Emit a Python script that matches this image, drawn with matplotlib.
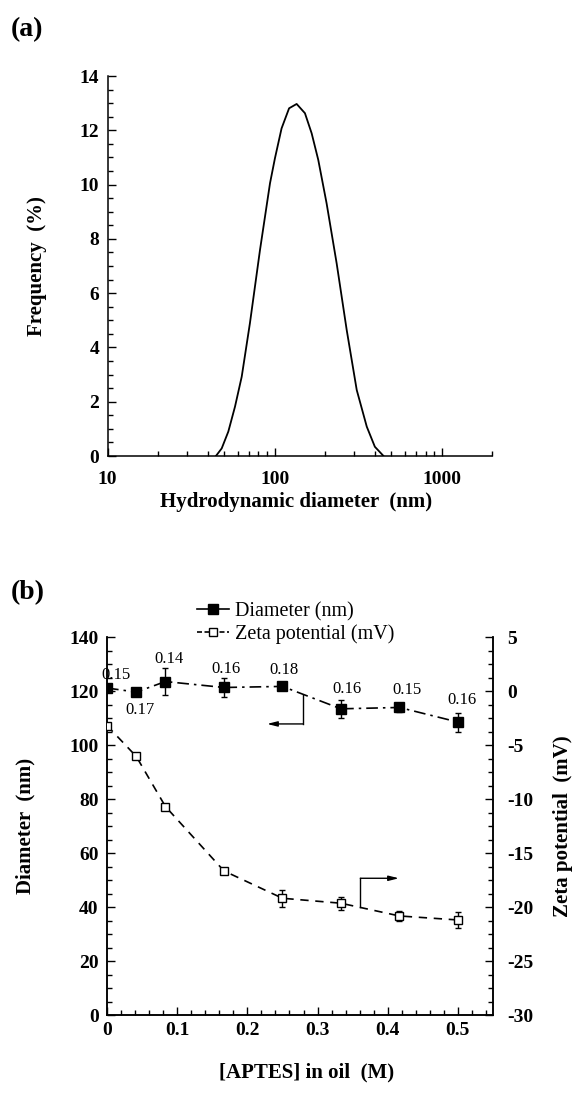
import numpy as np
import matplotlib as mpl
mpl.use('Agg')
import matplotlib.pyplot as plt
from matplotlib.lines import Line2D
from matplotlib.ticker import MultipleLocator, AutoMinorLocator, NullFormatter

rc = {
   'font.family': ['Liberation Serif', 'DejaVu Serif'],
   'axes.unicode_minus': False,
   'axes.linewidth': 1.1,
   'xtick.direction': 'in',
   'ytick.direction': 'in',
   'xtick.major.width': 1.0,
   'ytick.major.width': 1.0,
   'xtick.minor.width': 1.0,
   'ytick.minor.width': 1.0,
}
mpl.rcParams.update(rc)

# ----------------------------------------------------------------------------
# data, panel (a): size distribution
size_nm = [44.5, 48.2, 52.8, 57.9, 63.5, 71.1, 81.7, 93.8, 100.4, 110, 122,
           135.4, 151.8, 166.5, 182.4, 204.6, 235, 270, 310, 356, 398, 447]
freq_pct = [0, 0.28, 0.9, 1.82, 2.92, 4.89, 7.59, 10.05, 10.97, 12.07, 12.81,
            12.97, 12.63, 11.89, 10.91, 9.31, 7.1, 4.64, 2.43, 1.08, 0.34, 0.01]

# data, panel (b): APTES series
aptes_M = [0, 0.0417, 0.0833, 0.1667, 0.25, 0.3333, 0.4167, 0.5]
diam_nm = [121.1, 119.6, 123.5, 121.3, 121.7, 113.4, 113.9, 108.5]
diam_err = [0.8, 0.8, 5.0, 3.6, 0.8, 3.3, 1.5, 3.5]
zeta_mV = [-3.2, -6.06, -10.7, -16.66, -19.19, -19.65, -20.83, -21.2]
zeta_err = [0.2, 0.2, 0.2, 0.2, 0.8, 0.6, 0.5, 0.7]
pdi = ['0.15', '0.17', '0.14', '0.16', '0.18', '0.16', '0.15', '0.16']
# label offsets from each marker, pixels
pdi_dx = [9, 4, 4, 2, 2, 6, 8, 4]
pdi_dy = [13, -18, 23, 18, 16, 20, 17, 22]

W, H = 574, 1095
fig = plt.figure(figsize=(W/100, H/100), dpi=100)

def px_axes(l, r, t, b):
   return fig.add_axes([l/W, 1 - b/H, (r - l)/W, (b - t)/H])

bold = dict(fontweight='bold', fontsize=15)
TICK_FS = 14

# ----------------------------------------------------------------------------
# (a)
ax = px_axes(107.6, 492, 76, 456)
ax.plot(size_nm, freq_pct, '-', c='k', lw=1.3)
ax.set_xscale('log')
ax.set_xlim(10, 2000)
ax.set_ylim(0, 14)
ax.yaxis.set_major_locator(MultipleLocator(2))
ax.yaxis.set_minor_locator(AutoMinorLocator(4))
for s in ('top', 'right'):
   ax.spines[s].set_visible(False)
ax.tick_params(which='major', length=6)
ax.tick_params(which='minor', length=3.5)
ax.tick_params(axis='x', which='major', pad=11)
ax.tick_params(axis='y', which='major', pad=6)
ax.xaxis.set_minor_formatter(NullFormatter())
ax.set_xticks([10, 100, 1000])
ax.set_xticklabels(['10', '100', '1000'])
for t in ax.get_xticklabels() + ax.get_yticklabels():
   t.set_fontweight('bold')
   t.set_fontsize(TICK_FS)
ax.set_xlabel('Hydrodynamic diameter  (nm)', va='center', **bold)
ax.xaxis.set_label_coords(0.491, -0.121)
ax.set_ylabel('Frequency  (%)', va='center', **bold)
ax.yaxis.set_label_coords(-0.184, 0.5)
fig.text(11/W, 1 - 30/H, '(a)', fontsize=20, fontweight='bold', va='center')

# ----------------------------------------------------------------------------
# (b)
bx = px_axes(107, 493, 637, 1015)
bx2 = bx.twinx()
d_dash = (7, 3, 1.5, 3)
z_dash = (5, 4)
bx.errorbar(aptes_M, diam_nm, yerr=diam_err, c='k', lw=1.2, dashes=d_dash,
            marker='s', ms=6.5, mfc='k', mec='k', capsize=2.5, elinewidth=1.0,
            ecolor='k', zorder=3)
bx2.errorbar(aptes_M, zeta_mV, yerr=zeta_err, c='k', lw=1.2, dashes=z_dash,
             marker='s', ms=5.5, mfc='white', mec='k', mew=1.0, capsize=2.5,
             elinewidth=1.0, ecolor='k', zorder=3)

for x, y, s, dx, dy in zip(aptes_M, diam_nm, pdi, pdi_dx, pdi_dy):
   bx.annotate(s, (x, y), xytext=(dx, dy), textcoords='offset pixels',
               ha='center', va='center', fontsize=12)

# bracket arrows pointing at the axes
arr = dict(arrowstyle='-|>,head_length=0.6,head_width=0.15',
           color='k', lw=1.0, shrinkA=0, shrinkB=0)
bx.plot([0.2795, 0.2795], [118.6, 107.8], c='k', lw=1.0)
bx.annotate('', xy=(0.228, 107.8), xytext=(0.2795, 107.8), arrowprops=arr)
bx2.plot([0.361, 0.361], [-19.96, -17.34], c='k', lw=1.0)
bx2.annotate('', xy=(0.416, -17.34), xytext=(0.361, -17.34), arrowprops=arr)

bx.set_xlim(0, 0.55)
bx.set_ylim(0, 140)
bx2.set_ylim(-30, 5)
bx.xaxis.set_major_locator(MultipleLocator(0.1))
bx.xaxis.set_minor_locator(AutoMinorLocator(5))
bx.yaxis.set_major_locator(MultipleLocator(20))
bx.yaxis.set_minor_locator(AutoMinorLocator(4))
bx2.yaxis.set_major_locator(MultipleLocator(5))
bx2.yaxis.set_minor_locator(AutoMinorLocator(4))
bx.set_xticks([0, 0.1, 0.2, 0.3, 0.4, 0.5])
bx.set_xticklabels(['0', '0.1', '0.2', '0.3', '0.4', '0.5'])
for a in (bx, bx2):
   a.spines['top'].set_visible(False)
   a.tick_params(which='major', length=6)
   a.tick_params(which='minor', length=3.5)
bx.tick_params(axis='x', pad=5)
bx.tick_params(axis='y', pad=6)
bx2.tick_params(axis='y', pad=10)
for t in bx.get_xticklabels() + bx.get_yticklabels() + bx2.get_yticklabels():
   t.set_fontweight('bold')
   t.set_fontsize(TICK_FS)

bx.set_xlabel('[APTES] in oil  (M)', va='center', **bold)
bx.xaxis.set_label_coords(0.518, -0.153)
bx.set_ylabel('Diameter  (nm)', va='center', **bold)
bx.yaxis.set_label_coords(-0.212, 0.5)
bx2.set_ylabel('Zeta potential  (mV)', va='center', rotation=90, **bold)
bx2.yaxis.set_label_coords(1.182, 0.5)

handles = [
   Line2D([], [], c='k', lw=1.2, marker='s', ms=6.5, mfc='k', mec='k'),
   Line2D([], [], c='k', lw=1.2, dashes=(3, 1.5), marker='s', ms=5.5,
          mfc='white', mec='k'),
]
bx.legend(handles, ['Diameter (nm)', 'Zeta potential (mV)'], loc='upper left',
          frameon=False, bbox_to_anchor=(197/W, 1 - 602/H),
          bbox_transform=fig.transFigure, fontsize=14.5, handlelength=1.6,
          handletextpad=0.3, labelspacing=0.15, borderpad=0, borderaxespad=0)

fig.text(11/W, 1 - 593/H, '(b)', fontsize=20, fontweight='bold', va='center')

plt.savefig('out.png', dpi=100)
